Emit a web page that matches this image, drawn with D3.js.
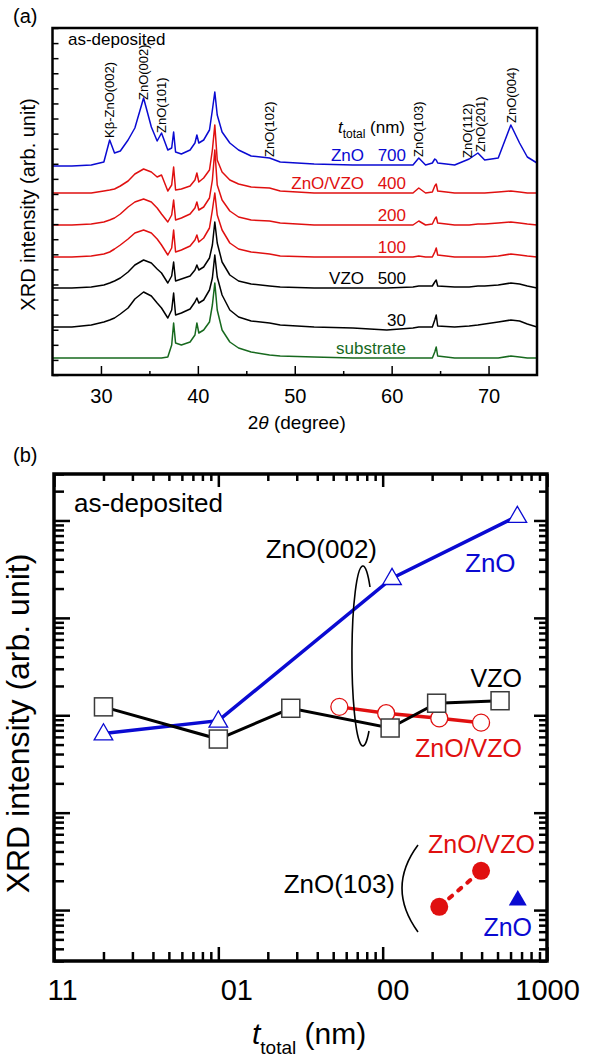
<!DOCTYPE html>
<html lang="en">
<head>
<meta charset="UTF-8">
<title>XRD intensity vs t_total</title>
<script src="https://cdnjs.cloudflare.com/ajax/libs/d3/7.8.5/d3.min.js"></script>
<style>
  body { margin: 0; background: #fff; }
  svg { font-family: "Liberation Sans", Arial, Helvetica, sans-serif; }
  .frame { fill: none; stroke: #000; }
  .tick line { stroke: #000; }
</style>
</head>
<body>
<div id="wrapper"></div>
<script>
const twoTheta = [25, 27, 29, 30.3, 30.9, 31.4, 32.0, 32.8, 33.5, 34.4, 35.2, 35.8, 36.25, 36.9, 37.3,
  37.5, 37.7, 38.3, 39.2, 39.7, 39.9, 40.1, 40.6, 41.2, 41.5, 41.75, 42.0, 42.5, 43.3, 44.2, 45.5,
  47.4, 48.5, 52, 56, 59.5, 62.2, 62.8, 63.5, 64.2, 64.45, 64.6, 64.75, 66.5, 68.0, 68.9, 69.6,
  71.0, 72.3, 73.2, 74.0, 75];

const zno700 = [209, 209, 210, 213, 235, 222, 224, 235, 247, 277, 248, 234, 242, 225, 227, 243, 223,
  221, 225, 232, 240, 232, 235, 245, 265, 283, 260, 243, 232, 225, 219, 217, 213, 211, 210, 210, 210,
  217, 210, 212, 216, 215, 212, 210, 216, 222, 215, 217, 250, 232, 218, 212];
const znoVzo400 = [182, 182, 182, 184, 185, 186, 189, 194, 201, 206, 203, 198, 200, 184, 190, 208, 185,
  186, 189, 195, 202, 193, 197, 205, 225, 250, 215, 203, 195, 191, 188, 187, 184, 182, 182, 182, 182,
  187, 182, 183, 189, 191, 184, 182, 182, 182, 182, 183, 184, 183, 182, 182];
const znoVzo200 = [150, 150, 151, 153, 155, 157, 161, 168, 173, 176, 173, 167, 161, 153, 160, 175, 155,
  157, 161, 167, 173, 165, 168, 177, 195, 225, 190, 175, 164, 158, 155, 154, 152, 150, 150, 150, 150,
  154, 150, 151, 156, 158, 152, 150, 150, 151, 151, 152, 153, 152, 151, 150];
const znoVzo100 = [118, 118, 119, 121, 123, 126, 130, 136, 142, 145, 142, 136, 130, 120, 127, 145, 123,
  125, 129, 135, 140, 133, 137, 147, 165, 182, 160, 145, 132, 126, 123, 121, 119, 118, 118, 118, 118,
  119, 118, 118, 123, 127, 120, 118, 118, 118, 118, 119, 121, 120, 119, 118];
const vzo500 = [87, 87, 88, 90, 92, 94, 97, 103, 110, 115, 112, 106, 102, 92, 99, 113, 94, 96, 99, 105,
  110, 105, 108, 117, 130, 153, 132, 113, 100, 94, 91, 89, 88, 87, 87, 87, 88, 89, 89, 89, 93, 95, 89,
  88, 88, 89, 89, 90, 92, 91, 89, 87];
const vzo30 = [48, 48, 50, 53, 55, 57, 61, 67, 76, 83, 79, 72, 67, 57, 65, 82, 60, 62, 66, 73, 77, 72,
  75, 85, 97, 120, 98, 80, 65, 58, 54, 52, 50, 48, 47, 45, 47, 48, 48, 48, 55, 60, 49, 48, 49, 50, 51,
  53, 55, 54, 51, 48];
const substrate = [17, 17, 17, 17, 17, 17, 17, 17, 17, 17, 17, 17, 17, 18, 30, 52, 32, 30, 33, 40, 52,
  42, 45, 53, 70, 92, 65, 45, 33, 27, 23, 20, 19, 18, 17, 17, 17, 17, 17, 17, 23, 28, 19, 17, 17, 17,
  17, 17, 19, 18, 17, 17];

const sampleNames = ["ZnO", "ZnO/VZO", "", "", "VZO", "", "substrate"];
const sampleThick = ["700", "400", "200", "100", "500", "30", ""];

const peakNames = ["Kβ-ZnO(002)", "ZnO(002)", "ZnO(101)", "ZnO(102)", "ZnO(103)", "ZnO(112)", "ZnO(201)", "ZnO(004)"];
const peakPos = [30.9, 34.4, 36.25, 47.4, 62.8, 67.8, 69.2, 72.4];
const peakLabelAt = [237, 275, 242, 218, 218, 217, 223, 252];

const xTicksA = [30, 40, 50, 60, 70];
const xMinorA = [35, 45, 55, 65];

// ---------- panel (b): integrated intensity vs total thickness ----------
const znoT = [2, 10, 114, 660];
const znoI = [65, 88, 2560, 11100];
const vzoT = [2, 10, 27.6, 111, 213, 518];
const vzoI = [122, 57, 118, 74, 133, 141];
const znoVzoT = [54.5, 105, 221, 397];
const znoVzoI = [122, 105, 93, 84];
const z103VzoT = [221, 397];
const z103VzoI = [1.08, 2.53];
const z103ZnoT = [664];
const z103ZnoI = [1.29];

const xTicksB = [1, 10, 100, 1000];
const xTickLabelsB = ["11", "01", "00", "1000"];

const BLUE = "#0a0ad2", RED = "#e01010", GREEN = "#17691e";

const svg = d3.select("#wrapper").append("svg")
  .attr("width", 594).attr("height", 1057);

// ================= panel (a) =================
const A = { left: 52.5, right: 537, top: 28, bottom: 375 };
const xA = d3.scaleLinear().domain([25, 75]).range([A.left, A.right]);
const yA = d3.scaleLinear().domain([0, 347]).range([A.bottom, A.top]);
// left axis of (a) carries unlabeled minor ticks only
const yTickA = d3.scaleLinear().domain([0, 23]).range([A.bottom, A.top]);

const series = [
  { v: zno700, c: BLUE }, { v: znoVzo400, c: RED }, { v: znoVzo200, c: RED },
  { v: znoVzo100, c: RED }, { v: vzo500, c: "#000" }, { v: vzo30, c: "#000" }, { v: substrate, c: GREEN }
];

const lineA = d3.line().x((d, i) => xA(twoTheta[i])).y(d => yA(d));
const gA = svg.append("g");
gA.selectAll("path.spec").data(series.slice().reverse()).enter().append("path")
  .attr("class", "spec")
  .attr("d", d => lineA(d.v))
  .attr("fill", "none").attr("stroke", d => d.c).attr("stroke-width", 1.5)
  .attr("stroke-linejoin", "round");

// axes of (a)
gA.append("g").attr("transform", `translate(0,${A.bottom})`)
  .call(d3.axisBottom(xA).tickValues(xTicksA).tickSize(-9).tickPadding(14).tickFormat(d3.format("d")))
  .call(g => g.select(".domain").remove())
  .call(g => g.selectAll("text").attr("font-size", 20).attr("fill", "#000").attr("font-family", null));
gA.append("g").attr("transform", `translate(0,${A.bottom})`)
  .call(d3.axisBottom(xA).tickValues(xMinorA).tickSize(-4).tickFormat(""))
  .call(g => g.select(".domain").remove());
gA.append("g").attr("transform", `translate(${A.left},0)`)
  .call(d3.axisLeft(yTickA).ticks(25).tickSize(-6).tickFormat(""))
  .call(g => g.select(".domain").remove());
gA.selectAll(".tick line").attr("stroke-width", 1.5);
gA.append("rect").attr("class", "frame")
  .attr("x", A.left).attr("y", A.top).attr("width", A.right - A.left).attr("height", A.bottom - A.top)
  .attr("stroke-width", 2.5);

// labels (a)
svg.append("text").attr("x", 13).attr("y", 23).attr("font-size", 20).text("(a)");
svg.append("text").attr("x", 68).attr("y", 45).attr("font-size", 17).text("as-deposited");

svg.append("text")
  .attr("transform", `translate(35,${(A.top + A.bottom) / 2 + 3}) rotate(-90)`)
  .attr("text-anchor", "middle").attr("font-size", 20)
  .text("XRD intensity (arb. unit)");

const xlabA = svg.append("text").attr("x", (A.left + A.right) / 2 + 2).attr("y", 429)
  .attr("text-anchor", "middle").attr("font-size", 19);
xlabA.append("tspan").text("2");
xlabA.append("tspan").attr("font-style", "italic").text("θ");
xlabA.append("tspan").text(" (degree)");

gA.selectAll("text.peak").data(peakNames).enter().append("text")
  .attr("class", "peak")
  .attr("transform", (d, i) => `translate(${xA(peakPos[i]) + 4.5},${yA(peakLabelAt[i])}) rotate(-90)`)
  .attr("font-size", 13).text(d => d);

// t_total (nm) heading
const tHead = svg.append("text").attr("x", 405).attr("y", 133).attr("text-anchor", "end").attr("font-size", 17);
tHead.append("tspan").attr("font-style", "italic").text("t");
tHead.append("tspan").attr("font-size", 12).attr("dy", 5).text("total");
tHead.append("tspan").attr("dy", -5).text(" (nm)");

const iLab = twoTheta.indexOf(59.5);
series.forEach((s, k) => {
  const yb = yA(s.v[iLab]) - 4;
  if (sampleThick[k]) {
    svg.append("text").attr("x", 406).attr("y", yb).attr("text-anchor", "end")
      .attr("font-size", 17).attr("fill", s.c).text(sampleThick[k]);
  }
  if (sampleNames[k]) {
    svg.append("text").attr("x", sampleThick[k] ? 364 : 406).attr("y", yb).attr("text-anchor", "end")
      .attr("font-size", 17).attr("fill", s.c).text(sampleNames[k]);
  }
});

// ================= panel (b) =================
const B = { left: 54, right: 547, top: 474, bottom: 961 };
const xB = d3.scaleLog().domain([1, 1000]).range([B.left, B.right]);
const yB = d3.scaleLog().domain([0.3, 30000]).range([B.bottom, B.top]);
const gB = svg.append("g");

const isMajor = t => Math.abs(Math.log10(t) - Math.round(Math.log10(t))) < 1e-9;
const xtB = xB.ticks(), ytB = yB.ticks();

function tickAxis(axisFn, scale, vals, size, tr) {
  gB.append("g").attr("transform", tr)
    .call(axisFn(scale).tickValues(vals).tickSize(size).tickFormat(""))
    .call(g => g.select(".domain").remove())
    .call(g => g.selectAll(".tick line").attr("stroke-width", 2.5));
}
tickAxis(d3.axisBottom, xB, xtB.filter(isMajor), -14, `translate(0,${B.bottom})`);
tickAxis(d3.axisBottom, xB, xtB.filter(t => !isMajor(t)), -9, `translate(0,${B.bottom})`);
tickAxis(d3.axisTop, xB, xtB.filter(isMajor), -13, `translate(0,${B.top})`);
tickAxis(d3.axisTop, xB, xtB.filter(t => !isMajor(t)), -7, `translate(0,${B.top})`);
tickAxis(d3.axisLeft, yB, ytB.filter(isMajor), -16, `translate(${B.left},0)`);
tickAxis(d3.axisLeft, yB, ytB.filter(t => !isMajor(t)), -10, `translate(${B.left},0)`);
tickAxis(d3.axisRight, yB, ytB.filter(isMajor), -13, `translate(${B.right},0)`);
tickAxis(d3.axisRight, yB, ytB.filter(t => !isMajor(t)), -8, `translate(${B.right},0)`);

const labelShift = [8, 18, 10, 0];
gB.append("g").attr("transform", `translate(0,${B.bottom})`)
  .call(d3.axisBottom(xB).tickValues(xTicksB).tickSize(0).tickPadding(18)
    .tickFormat((d, i) => xTickLabelsB[i]))
  .call(g => g.select(".domain").remove())
  .call(g => g.selectAll("text").attr("font-size", 29).attr("font-family", null).attr("fill", "#000")
    .attr("dx", (d, i) => labelShift[i]));

gB.append("rect").attr("class", "frame")
  .attr("x", B.left).attr("y", B.top).attr("width", B.right - B.left).attr("height", B.bottom - B.top)
  .attr("stroke-width", 3.5);

const lineB = (ts, is) => d3.line().x((d, i) => xB(ts[i])).y(d => yB(d))(is);

// ZnO/VZO (002)
gB.append("path").attr("d", lineB(znoVzoT, znoVzoI)).attr("fill", "none")
  .attr("stroke", RED).attr("stroke-width", 3.5);
gB.selectAll("circle.zv").data(znoVzoI).enter().append("circle").attr("class", "zv")
  .attr("cx", (d, i) => xB(znoVzoT[i])).attr("cy", d => yB(d)).attr("r", 8.5)
  .attr("fill", "#fff").attr("stroke", RED).attr("stroke-width", 1.3);

// ZnO (002)
gB.append("path").attr("d", lineB(znoT, znoI)).attr("fill", "none")
  .attr("stroke", BLUE).attr("stroke-width", 3.5);
const tri = d3.symbol().type(d3.symbolTriangle).size(150);
gB.selectAll("path.zt").data(znoI).enter().append("path").attr("class", "zt")
  .attr("transform", (d, i) => `translate(${xB(znoT[i])},${yB(d) + 1})`)
  .attr("d", tri).attr("fill", "#fff").attr("stroke", BLUE).attr("stroke-width", 1.3);

// VZO (002)
gB.append("path").attr("d", lineB(vzoT, vzoI)).attr("fill", "none")
  .attr("stroke", "#000").attr("stroke-width", 3);
gB.selectAll("rect.vs").data(vzoI).enter().append("rect").attr("class", "vs")
  .attr("x", (d, i) => xB(vzoT[i]) - 9).attr("y", d => yB(d) - 9)
  .attr("width", 18).attr("height", 18)
  .attr("fill", "#fff").attr("stroke", "#3a3a3a").attr("stroke-width", 1.5);

// ZnO(103)
gB.append("path").attr("d", lineB(z103VzoT, z103VzoI)).attr("fill", "none")
  .attr("stroke", RED).attr("stroke-width", 4).attr("stroke-dasharray", "4 8")
  .attr("stroke-dashoffset", -13).attr("stroke-linecap", "round");
gB.selectAll("circle.zf").data(z103VzoI).enter().append("circle").attr("class", "zf")
  .attr("cx", (d, i) => xB(z103VzoT[i])).attr("cy", d => yB(d)).attr("r", 9)
  .attr("fill", RED);
gB.selectAll("path.zft").data(z103ZnoI).enter().append("path").attr("class", "zft")
  .attr("transform", (d, i) => `translate(${xB(z103ZnoT[i])},${yB(d) + 1})`)
  .attr("d", d3.symbol().type(d3.symbolTriangle).size(140)).attr("fill", BLUE);

// annotations (b)
const ann = (x, y, txt, size, color, anchor) => svg.append("text").attr("x", x).attr("y", y)
  .attr("font-size", size).attr("fill", color || "#000").attr("text-anchor", anchor || "start").text(txt);
ann(13, 462, "(b)", 20);
ann(74, 512, "as-deposited", 26);
ann(377, 558, "ZnO(002)", 26, "#000", "end");
ann(465, 572, "ZnO", 26, BLUE);
ann(522, 687, "VZO", 25, "#000", "end");
ann(522, 757, "ZnO/VZO", 25, RED, "end");
ann(395, 893, "ZnO(103)", 26, "#000", "end");
ann(535, 853, "ZnO/VZO", 25, RED, "end");
ann(532, 936, "ZnO", 25, BLUE, "end");

// ellipse round the (002) points and bracket for (103)
gB.append("path")
  .attr("d", "M 370 587 A 11 90 0 1 0 369 731")
  .attr("fill", "none").attr("stroke", "#000").attr("stroke-width", 1.6);
gB.append("path")
  .attr("d", "M 418 845 Q 386 888 418 932")
  .attr("fill", "none").attr("stroke", "#000").attr("stroke-width", 1.6);

svg.append("text")
  .attr("transform", `translate(29,${(B.top + B.bottom) / 2 + 6}) rotate(-90)`)
  .attr("text-anchor", "middle").attr("font-size", 32)
  .text("XRD intensity (arb. unit)");

const xlabB = svg.append("text").attr("x", 252).attr("y", 1044).attr("font-size", 30);
xlabB.append("tspan").attr("font-style", "italic").text("t");
xlabB.append("tspan").attr("font-size", 19).attr("dy", 10).text("total");
xlabB.append("tspan").attr("dy", -10).text(" (nm)");
</script>
</body>
</html>
